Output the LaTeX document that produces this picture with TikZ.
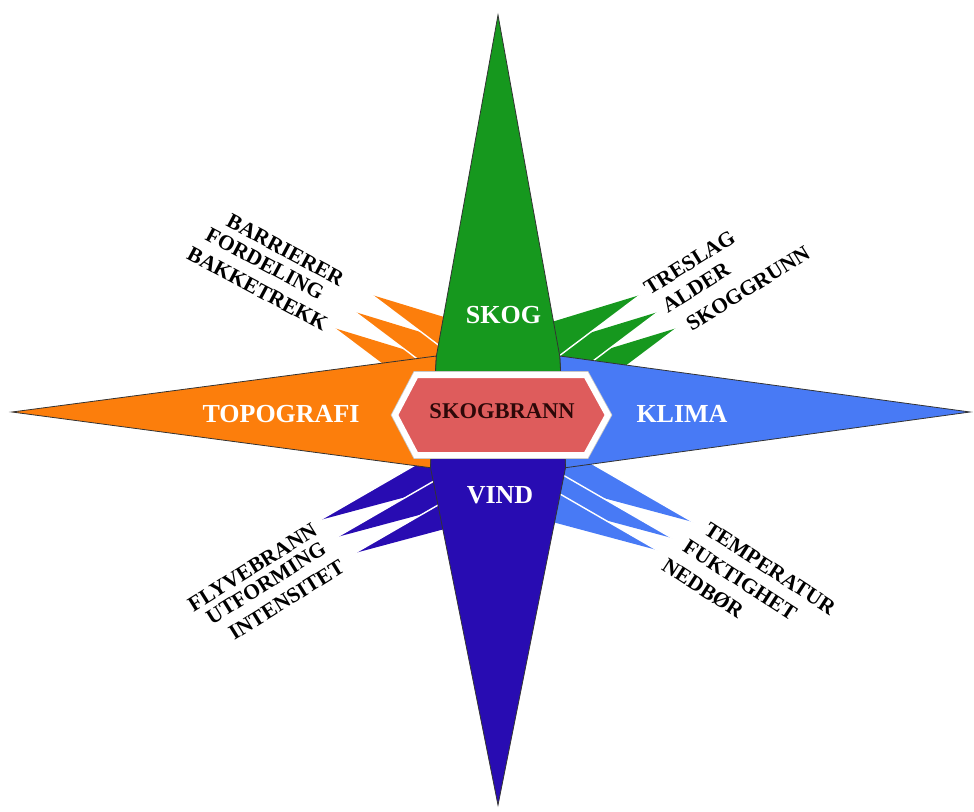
\documentclass[tikz,border=0pt]{standalone}
\usepackage{fontspec}
\setmainfont{Liberation Serif}

\definecolor{forestgreen}{RGB}{22,152,30}
\definecolor{terrainorange}{RGB}{252,126,12}
\definecolor{climateblue}{RGB}{72,122,245}
\definecolor{windindigo}{RGB}{40,12,178}
\definecolor{firered}{RGB}{222,92,92}
\definecolor{firetext}{RGB}{45,8,8}

\tikzset{
  arm/.style={draw=black!80, line width=0.8pt, line join=miter},
  gleam/.style={draw=white, line width=1.4pt},
  armlabel/.style={text=white, font=\bfseries\fontsize{26}{26}\selectfont, inner sep=0pt},
  hublabel/.style={text=firetext, font=\bfseries\fontsize{22.5}{22.5}\selectfont, inner sep=0pt},
  factor/.style={text=black, font=\bfseries\fontsize{21.5}{21.5}\selectfont, inner sep=0pt},
}

% a thin side spike: colour, tip, far corner, far corner along which the white gleam runs
\newcommand\drawspike[4]{%
  \fill[#1] #2 -- #3 -- #4 -- cycle;
  \draw[gleam] #2 -- #4;}

\begin{document}
\begin{tikzpicture}[x=1pt,y=-1pt]
\useasboundingbox (0,0) rectangle (974,811);

% side spikes, drawn first so that the big arms cover their roots
% upper left (orange)
\drawspike{terrainorange}{(334,328)}{(496.6,377.7)}{(469.8,430.3)}
\drawspike{terrainorange}{(355,312)}{(517.6,361.7)}{(490.8,414.3)}
\drawspike{terrainorange}{(372,295)}{(534.6,344.7)}{(507.8,397.3)}
% upper right (green)
\drawspike{forestgreen}{(677,328)}{(514.4,377.7)}{(541.2,430.3)}
\drawspike{forestgreen}{(658,312)}{(495.4,361.7)}{(522.2,414.3)}
\drawspike{forestgreen}{(640,295)}{(477.4,344.7)}{(504.2,397.3)}
% lower left (indigo)
\drawspike{windindigo}{(320,520)}{(484.2,476)}{(467.2,435)}
\drawspike{windindigo}{(337,537)}{(501.2,493)}{(484.2,452)}
\drawspike{windindigo}{(355,553)}{(519.2,509)}{(502.2,468)}
% lower right (blue)
\drawspike{climateblue}{(693,522)}{(528.8,478)}{(545.8,437)}
\drawspike{climateblue}{(672,538)}{(507.8,494)}{(524.8,453)}
\drawspike{climateblue}{(657,550)}{(492.8,506)}{(509.8,465)}

% the four main arms of the star
\filldraw[arm, fill=terrainorange] (12,412) -- (436.4,356) -- (430.5,467.7) -- cycle;
\filldraw[arm, fill=climateblue] (970,412) -- (559.7,356) -- (565.5,467.7) -- cycle;
\filldraw[arm, fill=forestgreen] (498,15) -- (436.4,356) -- (433,412) -- (563,412) -- (559.7,356) -- cycle;
\filldraw[arm, fill=windindigo] (498,805) -- (430.5,467.7) -- (433,412) -- (563,412) -- (565.5,467.7) -- cycle;

% central hexagon
\draw[gray!45, line width=7.6pt, line join=miter]
  (395,415) -- (416,375) -- (586,375) -- (608,415) -- (586,455) -- (416,455) -- cycle;
\filldraw[draw=white, line width=6pt, fill=firered, line join=miter]
  (395,415) -- (416,375) -- (586,375) -- (608,415) -- (586,455) -- (416,455) -- cycle;
\node[hublabel] (hub) at (502,411) {SKOGBRANN};

% arm titles
\node[armlabel] (skog) at (503.5,315.5) {SKOG};
\node[armlabel] (topo) at (281,414) {TOPOGRAFI};
\node[armlabel] (klima) at (682,413.5) {KLIMA};
\node[armlabel] (vind) at (500,495) {VIND};

% factors, upper left
\node[factor, rotate=-28] (barr) at (285.5,250) {BARRIERER};
\node[factor, rotate=-28] (ford) at (265,264) {FORDELING};
\node[factor, rotate=-28] (bakk) at (257.5,289) {BAKKETREKK};
% factors, upper right
\node[factor, rotate=32] (tres) at (689.5,262.5) {TRESLAG};
\node[factor, rotate=32] (alder) at (696,287.5) {ALDER};
\node[factor, rotate=32] (grunn) at (748,288.5) {SKOGGRUNN};
% factors, lower left
\node[factor, rotate=32] (flyve) at (252.5,567.5) {FLYVEBRANN};
\node[factor, rotate=32] (utf) at (266,583) {UTFORMING};
\node[factor, rotate=32] (inten) at (286.5,600) {INTENSITET};
% factors, lower right
\node[factor, rotate=-33] (temp) at (770,568.5) {TEMPERATUR};
\node[factor, rotate=-33] (fukt) at (740,580) {FUKTIGHET};
\node[factor, rotate=-33] (nedb) at (703,588.5) {NEDBØR};
\end{tikzpicture}
\end{document}
